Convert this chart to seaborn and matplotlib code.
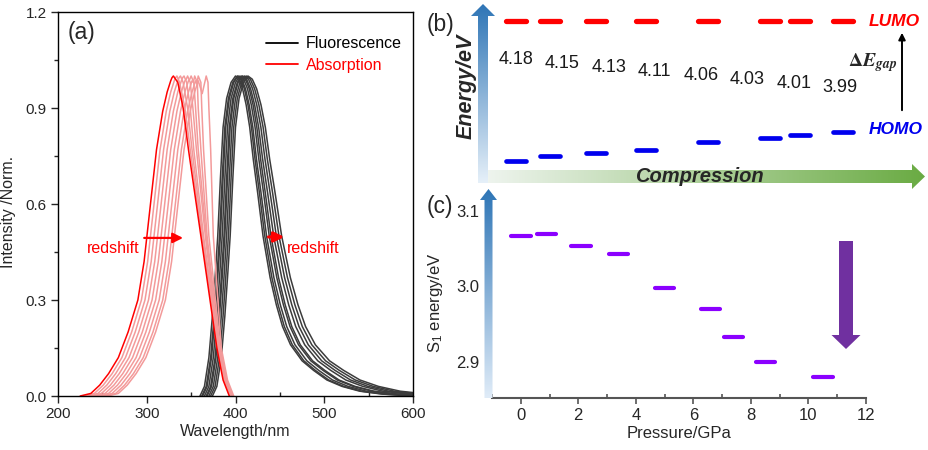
import matplotlib
matplotlib.use('Agg')
import matplotlib.pyplot as plt
from matplotlib.patches import Polygon
from matplotlib.colors import LinearSegmentedColormap
from matplotlib.lines import Line2D
from matplotlib.ticker import MultipleLocator
import numpy as np
import pandas as pd
import seaborn as sns

# ---- data ----
# (a) absorption: common rising edge (nm offset from the 0.57 point), per-curve top / falling edge
abs_rise_dx = [-78, -66, -56, -46, -35, -24, -13, -6, 0, 8, 15, 20, 24]
abs_rise_y = [0.0, 0.008, 0.034, 0.07, 0.12, 0.2, 0.3, 0.42, 0.57, 0.77, 0.89, 0.95, 0.985]
abs_rise_at = [303, 307, 311, 315, 319, 323, 327, 331, 334]
abs_peak_nm = [330, 334, 338, 342, 346, 350, 354, 358, 367]
abs_top_y = [0.995, 0.995, 0.995, 0.995, 0.99, 0.99, 0.98, 0.975, 0.945]
abs_fall_levels = [0.98, 0.9, 0.77, 0.5, 0.15, 0.05, 0.0]
abs_fall_nm = [
    [335, 341, 347, 361, 379, 386, 393],
    [337, 343, 349, 362, 380, 387, 394],
    [341, 346, 351, 363, 380, 387, 394],
    [345, 349, 353, 364, 381, 388, 395],
    [349, 352, 356, 366, 381, 388, 395],
    [353, 355, 358, 367, 382, 389, 396],
    [357, 358, 361, 368, 382, 389, 396],
    [361, 362, 364, 370, 383, 390, 397],
    [369, 370, 372, 375, 384, 391, 398],
]

# (a) fluorescence: common shape relative to peak, right side stretched to its half-max point
fl_rise_dx = [-40, -35, -30, -26, -23, -20, -17, -14, -10, -5, 0]
fl_rise_y = [0.0, 0.03, 0.12, 0.25, 0.37, 0.5, 0.68, 0.84, 0.93, 0.98, 1.0]
fl_fall_dx = [4, 8, 12, 16, 20, 25, 31, 39, 46, 53, 62, 75, 88, 103, 120, 140, 165, 200]
fl_fall_y = [0.99, 0.96, 0.91, 0.84, 0.74, 0.634, 0.5, 0.37, 0.285, 0.217, 0.16, 0.11,
             0.08, 0.05, 0.03, 0.015, 0.006, 0.0]
fl_peak = [400, 402, 403, 405, 407, 408, 410, 412, 414]
fl_half_right = [431, 433, 435, 438, 440, 443, 446, 449, 452]

# (b) energy levels
pressure = [0, 0.9, 2.1, 3.4, 5.0, 6.6, 7.4, 8.5, 10.5]
gap = [4.18, 4.15, 4.13, 4.11, 4.06, 4.03, 4.01, 3.99]
lumo_level = -3.275

# (c) S1 energy vs pressure
s1_energy = [3.066, 3.069, 3.053, 3.043, 2.998, 2.969, 2.933, 2.899, 2.879]

sns.set_style('ticks')
plt.rcParams['font.family'] = ['Liberation Sans', 'DejaVu Sans']
plt.rcParams['mathtext.fontset'] = 'custom'
plt.rcParams['mathtext.rm'] = 'Liberation Sans'
plt.rcParams['mathtext.it'] = 'Liberation Sans:italic'
plt.rcParams['mathtext.bf'] = 'Liberation Sans:bold'

W, H = 929, 450
fig = plt.figure(figsize=(W / 100, H / 100), dpi=100)


def box(l, t, r, b):
    return [l / W, 1 - b / H, (r - l) / W, (b - t) / H]


# ---------------- (a) spectra ----------------
ax_a = fig.add_axes(box(58, 12, 413, 396))

rows = []
for i in range(len(fl_peak)):
    k = (fl_half_right[i] - fl_peak[i]) / 31
    for dx, y in zip(fl_rise_dx, fl_rise_y):
        rows.append((fl_peak[i] + dx, y, 'f%d' % i))
    for dx, y in zip(fl_fall_dx, fl_fall_y):
        rows.append((fl_peak[i] + dx * k, y, 'f%d' % i))
df_fl = pd.DataFrame(rows, columns=['nm', 'y', 'curve'])

rows = []
for i in range(len(abs_peak_nm)):
    for dx, y in zip(abs_rise_dx, abs_rise_y):
        rows.append((abs_rise_at[i] + dx, y, 'a%d' % i))
    rise_end = abs_rise_at[i] + abs_rise_dx[-1]
    rows.append(((rise_end + abs_peak_nm[i]) / 2, abs_top_y[i], 'a%d' % i))
    rows.append((abs_peak_nm[i], 1.0, 'a%d' % i))
    for x, y in zip(abs_fall_nm[i], abs_fall_levels):
        rows.append((x, y, 'a%d' % i))
df_abs = pd.DataFrame(rows, columns=['nm', 'y', 'curve'])

fl_pal = {c: '#3c3c3c' for c in df_fl['curve'].unique()}
abs_order = ['a%d' % i for i in range(1, len(abs_peak_nm))] + ['a0']
abs_pal = {c: '#f39a9a' for c in abs_order}
abs_pal['a0'] = '#ff0000'

sns.lineplot(data=df_fl, x='nm', y='y', hue='curve', units='curve', estimator=None,
             sort=False, palette=fl_pal, legend=False, lw=1.1, ax=ax_a)
sns.lineplot(data=df_abs, x='nm', y='y', hue='curve', hue_order=abs_order, units='curve',
             estimator=None, sort=False, palette=abs_pal, legend=False, lw=1.1, ax=ax_a)

ax_a.set_xlim(200, 600)
ax_a.set_ylim(0, 1.2)
ax_a.xaxis.set_major_locator(MultipleLocator(100))
ax_a.xaxis.set_minor_locator(MultipleLocator(50))
ax_a.yaxis.set_major_locator(MultipleLocator(0.3))
ax_a.yaxis.set_minor_locator(MultipleLocator(0.15))
ax_a.tick_params(which='major', direction='out', length=5, width=1, labelsize=11, pad=3)
ax_a.tick_params(axis='x', which='minor', direction='in', length=3, width=1)
ax_a.tick_params(axis='y', which='minor', direction='out', length=3, width=1)
for s in ax_a.spines.values():
    s.set_linewidth(1.0)
    s.set_color('black')
ax_a.set_xlabel('Wavelength/nm', fontsize=11.5, labelpad=2)
ax_a.set_ylabel('Intensity /Norm.', fontsize=11.5)
ax_a.yaxis.set_label_coords(-0.118, 0.48)

handles = [Line2D([], [], color='black', lw=1.3), Line2D([], [], color='red', lw=1.3)]
ax_a.legend(handles, ['Fluorescence', 'Absorption'], loc='upper left',
            bbox_to_anchor=(0.585, 0.937), frameon=False, fontsize=11.5,
            labelcolor=['black', 'red'], handlelength=2.0, handletextpad=0.5,
            labelspacing=0.4, borderpad=0, borderaxespad=0)

ax_a.annotate('', xy=(344, 0.494), xytext=(294, 0.494),
              arrowprops=dict(arrowstyle='-|>', color='red', lw=1.6, mutation_scale=15))
ax_a.annotate('', xy=(458, 0.497), xytext=(434, 0.497),
              arrowprops=dict(arrowstyle='-|>', color='red', lw=2.2, mutation_scale=15))
ax_a.text(233, 0.462, 'redshift', color='red', fontsize=11.5, va='center', ha='left')
ax_a.text(458, 0.462, 'redshift', color='red', fontsize=11.5, va='center', ha='left')

# ---------------- (b) energy levels ----------------
ax_b = fig.add_axes(box(460, 0, 929, 190))
bp = np.array(pressure[:len(gap)])
lc = ax_b.hlines([lumo_level] * len(bp), bp - 0.26, bp + 0.26, colors='#ff0000', lw=3.8)
lc.set_capstyle('round')
hc = ax_b.hlines([-g for g in gap], bp - 0.26, bp + 0.26, colors='#0000ee', lw=3.4)
hc.set_capstyle('round')
ax_b.set_xlim(-1.442, 10.74)
ax_b.set_ylim(-4.367, -3.141)
ax_b.axis('off')

# ---------------- (c) S1 energy ----------------
ax_c = fig.add_axes(box(492, 190, 866, 398))
sc = ax_c.hlines(s1_energy, np.array(pressure) - 0.34, np.array(pressure) + 0.34,
                 colors='#8b00ff', lw=3.0)
sc.set_capstyle('round')
ax_c.set_xlim(-1, 12)
ax_c.set_ylim(2.8517, 3.1272)
ax_c.set_yticks([2.9, 3.0, 3.1])
ax_c.xaxis.set_major_locator(MultipleLocator(2))
ax_c.xaxis.set_minor_locator(MultipleLocator(1))
for side in ['left', 'top', 'right']:
    ax_c.spines[side].set_visible(False)
ax_c.spines['bottom'].set_color('#555555')
ax_c.spines['bottom'].set_linewidth(1.5)
ax_c.tick_params(axis='y', length=0, pad=9, labelsize=12)
ax_c.tick_params(axis='x', which='major', direction='out', length=4, width=1.2,
                 color='#555555', labelsize=12, pad=3)
ax_c.tick_params(axis='x', which='minor', direction='in', length=3, width=1.2, color='#555555')
ax_c.set_xlabel('Pressure/GPa', fontsize=12, labelpad=2)
ax_c.set_ylabel('S$_1$ energy/eV', fontsize=12)
ax_c.yaxis.set_label_coords(-0.125, 0.46)

# ---------------- overlay: arrows and labels (pixel coords) ----------------
ov = fig.add_axes([0, 0, 1, 1])


def grad_arrow(pts, extent, c0, c1, horizontal):
    poly = Polygon(pts, closed=True, facecolor='none', edgecolor='none')
    ov.add_patch(poly)
    g = np.linspace(0, 1, 256)
    arr = g[None, :] if horizontal else g[:, None]
    cmap = LinearSegmentedColormap.from_list('g', [c0, c1])
    ov.imshow(arr, extent=extent, cmap=cmap, aspect='auto', origin='upper',
              clip_path=poly, interpolation='bilinear')


def v_arrow(cx, sw, hw, ty, hb, yb):
    return [(cx - sw, yb), (cx - sw, hb), (cx - hw, hb), (cx, ty),
            (cx + hw, hb), (cx + sw, hb), (cx + sw, yb)]


pts = v_arrow(483, 5, 12, 4, 16, 183)
grad_arrow(pts, (470, 496, 183, 4), '#2e75b6', '#e6f0f9', False)
cy = 176.5
pts = [(488, cy - 6.5), (912, cy - 6.5), (912, cy - 12.5), (925, cy),
       (912, cy + 12.5), (912, cy + 6.5), (488, cy + 6.5)]
grad_arrow(pts, (488, 925, 190, 163), '#eef4ee', '#6aab43', True)
pts = v_arrow(488.5, 4, 8.5, 189, 200, 398)
grad_arrow(pts, (479, 498, 398, 189), '#2e75b6', '#e0ecf8', False)

ov.add_patch(Polygon(v_arrow(846, 7, 14.5, 349, 335, 241), closed=True,
                     facecolor='#7030a0', edgecolor='none'))

ov.annotate('', xy=(902, 30), xytext=(902, 113),
            arrowprops=dict(arrowstyle='-|>', color='black', lw=1.4, mutation_scale=10))

ov.text(68, 32, '(a)', fontsize=16.5, va='center', ha='left')
ov.text(427, 24, '(b)', fontsize=16.5, va='center', ha='left')
ov.text(427, 207, '(c)', fontsize=16.5, va='center', ha='left')
ov.text(466, 86, 'Energy/eV', fontsize=15.5, fontweight='bold', fontstyle='italic',
        rotation=90, va='center', ha='center')
ov.text(699, 176, 'Compression', fontsize=14.5, fontweight='bold', fontstyle='italic',
        va='center', ha='center', zorder=5)
ov.text(869, 21, 'LUMO', fontsize=12.5, fontweight='bold', fontstyle='italic',
        color='#ff0000', va='center', ha='left')
ov.text(869, 130, 'HOMO', fontsize=12.5, fontweight='bold', fontstyle='italic',
        color='#0000ee', va='center', ha='left')
ov.text(873, 63, r'$\mathbf{\Delta}\mathbfit{E}_{\mathbfit{gap}}$', fontsize=14,
        va='center', ha='center', math_fontfamily='stix')

gx = np.linspace(516, 840, len(gap))
gy = np.linspace(59, 88, len(gap))
for x, y, g in zip(gx, gy, gap):
    ov.text(x, y, '%.2f' % g, fontsize=13, va='center', ha='center', color='#1a1a1a')

ov.set_xlim(0, W)
ov.set_ylim(H, 0)
ov.axis('off')

fig.savefig('out.png', dpi=100)
